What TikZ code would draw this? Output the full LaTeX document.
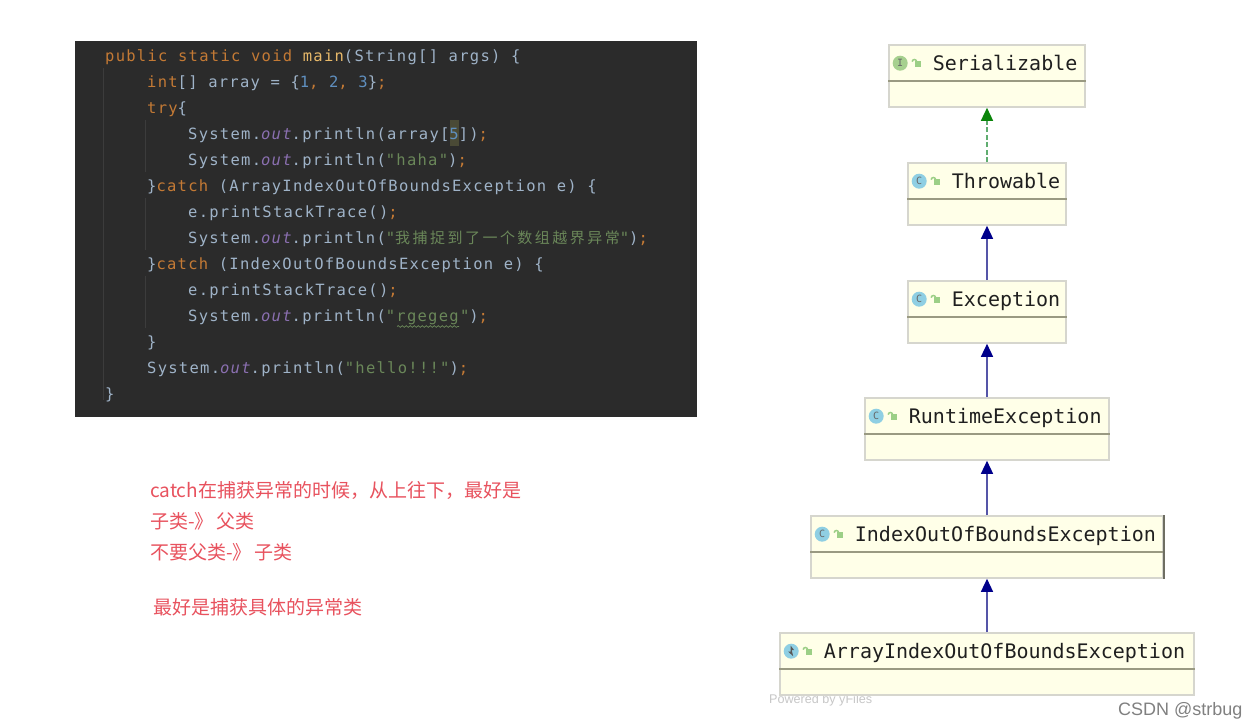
\documentclass[tikz,border=0pt]{standalone}
\usepackage{fontspec}
\usetikzlibrary{arrows.meta,decorations.pathmorphing}
\setmainfont{Liberation Sans}
\newfontfamily\codefont[LetterSpace=8.2]{DejaVu Sans Mono}
\newfontfamily\cjkcode[LetterSpace=16.5]{Noto Sans CJK SC}
\newfontfamily\umlfont{DejaVu Sans Mono}
\newfontfamily\cjk{Noto Sans CJK SC}
\definecolor{codebg}{HTML}{2B2B2B}
\definecolor{kw}{HTML}{C47A35}
\definecolor{plain}{HTML}{9FB3C8}
\definecolor{fieldc}{HTML}{8A6FB0}
\definecolor{numc}{HTML}{5F8FBF}
\definecolor{strc}{HTML}{6A8759}
\definecolor{methc}{HTML}{E8B96A}
\definecolor{guide}{HTML}{3C3C3C}
\definecolor{hilite}{HTML}{4A4A36}
\definecolor{umlfill}{HTML}{FFFFE8}
\definecolor{umledge}{HTML}{D6D6CE}
\definecolor{umlsep}{HTML}{9A9A82}
\definecolor{umldark}{HTML}{6E6E62}
\definecolor{navyhead}{HTML}{00008B}
\definecolor{navyline}{HTML}{5555A8}
\definecolor{greenhead}{HTML}{0A850A}
\definecolor{greenline}{HTML}{60AD70}
\definecolor{iconblue}{HTML}{8FCFE3}
\definecolor{icongreen}{HTML}{A6D08E}
\definecolor{lockgreen}{HTML}{9CCF86}
\definecolor{note}{HTML}{E8525E}
\newcommand\K[1]{\textcolor{kw}{#1}}
\newcommand\F[1]{\textit{\textcolor{fieldc}{#1}}}
\newcommand\Nm[1]{\textcolor{numc}{#1}}
\newcommand\St[1]{\textcolor{strc}{#1}}
\newcommand\Mt[1]{\textcolor{methc}{#1}}
\tikzset{
  codeline/.style={anchor=base west,inner sep=0pt,text=plain,font=\codefont\fontsize{15.5}{18}\selectfont},
  notetext/.style={anchor=base west,inner sep=0pt,text=note,font=\cjk\fontsize{19}{22}\selectfont},
  umlbox/.style={draw=umledge,fill=umlfill,line width=1.6pt,inner sep=0pt,minimum height=62pt},
  umlrule/.style={draw=umlsep,line width=1.8pt},
  umllabel/.style={anchor=base west,inner sep=0pt,text=black!88,font=\umlfont\fontsize{20}{24}\selectfont},
  iconc/.style={circle,inner sep=0pt,minimum size=15pt,text=black!60,font=\umlfont\fontsize{10}{10}\selectfont},
  extends/.style={draw=navyline,line width=1.4pt,-{Triangle[width=12pt,length=13pt,color=navyhead,fill=navyhead]}},
  implements/.style={draw=greenline,line width=1.4pt,dash pattern=on 5pt off 2.5pt,-{Triangle[width=12pt,length=13pt,color=greenhead,fill=greenhead]}},
}
\newcommand\lockat[1]{%
  \fill[lockgreen] ([shift={(-1pt,-1pt)}]#1) rectangle ([shift={(5pt,-6.5pt)}]#1);
  \draw[lockgreen,line width=1.5pt] ([shift={(-3.5pt,-1.5pt)}]#1) arc[start angle=180,end angle=0,radius=2.2pt];
}
\newcommand\umlnode[6]{% name, y centre, width, label, icon letter, icon colour
  \node[umlbox,minimum width=#3pt] (#1) at (987,#2) {};
  \draw[umlrule] ([yshift=-37pt]#1.north west) -- ([yshift=-37pt]#1.north east);
  \node[iconc,fill=#6] (#1icon) at ([shift={(12pt,-19pt)}]#1.north west) {#5};
  \coordinate (#1lock) at ([shift={(27.5pt,-16pt)}]#1.north west);
  \lockat{#1lock}
  \node[umllabel] (#1label) at ([shift={(44.5pt,-26pt)}]#1.north west) {#4};
}
\begin{document}
\begin{tikzpicture}[x=1pt,y=-1pt]
\useasboundingbox (0,0) rectangle (1259,728);
\fill[white] (0,0) rectangle (1259,728);

% code panel
\fill[codebg] (75,41) rectangle (697,417);
\foreach \gx/\ga/\gb in {103/68/400,145/120/172,145/198/250,145/276/328}
  \draw[guide,line width=0.8pt] (\gx,\ga) -- (\gx,\gb);
\fill[hilite] (449.5,120) rectangle (459,146);
\node[codeline] (c1) at (105,61) {\K{public static void} \Mt{main}(String[] args) \{};
\node[codeline] (c2) at (147,87) {\K{int}[] array = \{\Nm{1}\K{,} \Nm{2}\K{,} \Nm{3}\}\K{;}};
\node[codeline] (c3) at (147,113) {\K{try}\{};
\node[codeline] (c4) at (188,139) {System.\F{out}.println(array[\Nm{5}])\K{;}};
\node[codeline] (c5) at (188,165) {System.\F{out}.println(\St{"haha"})\K{;}};
\node[codeline] (c6) at (147,191) {\}\K{catch} (ArrayIndexOutOfBoundsException e) \{};
\node[codeline] (c7) at (188,217) {e.printStackTrace()\K{;}};
\node[codeline] (c8) at (188,243) {System.\F{out}.println(\St{"{\cjkcode\fontsize{15}{18}\selectfont 我捕捉到了一个数组越界异常}"})\K{;}};
\node[codeline] (c9) at (147,269) {\}\K{catch} (IndexOutOfBoundsException e) \{};
\node[codeline] (c10) at (188,295) {e.printStackTrace()\K{;}};
\node[codeline] (c11) at (188,321) {System.\F{out}.println(\St{"rgegeg"})\K{;}};
\node[codeline] (c12) at (147,347) {\}};
\node[codeline] (c13) at (147,373) {System.\F{out}.println(\St{"hello!!!"})\K{;}};
\node[codeline] (c14) at (105,399) {\}};
\draw[strc,line width=0.7pt,decorate,decoration={snake,segment length=4pt,amplitude=0.9pt}] (397,326.5) -- (459,326.5);

% red notes
\node[notetext] (n1) at (150,497) {catch在捕获异常的时候，从上往下，最好是};
\node[notetext] (n2) at (150,528) {子类-》\hspace{3pt}父类};
\node[notetext] (n3) at (150,559) {不要父类-》\hspace{3pt}子类};
\node[notetext] (n4) at (153,614) {最好是捕获具体的异常类};

% watermarks
\node[anchor=base west,inner sep=0pt,text=black!22,font=\fontsize{12.6}{15}\selectfont] (yfiles) at (769,703) {Powered by yFiles};
\node[anchor=base west,inner sep=0pt,text=black!50,font=\fontsize{18}{21}\selectfont] (csdn) at (1118,715) {CSDN @strbug};

% class hierarchy
\umlnode{ser}{76}{196}{Serializable}{I}{icongreen}
\umlnode{thr}{194}{158}{Throwable}{C}{iconblue}
\umlnode{exc}{312}{158}{Exception}{C}{iconblue}
\umlnode{rte}{429}{244}{RuntimeException}{C}{iconblue}
\umlnode{iob}{547}{352}{IndexOutOfBoundsException}{C}{iconblue}
\umlnode{aio}{664}{414}{ArrayIndexOutOfBoundsException}{}{iconblue}
\draw[umldark,line width=1.6pt] (iob.north east) -- (iob.south east);
\fill[black!65] ([shift={(11.5pt,-13.5pt)}]aio.north west) -- ([shift={(15pt,-18pt)}]aio.north west) -- ([shift={(12.5pt,-18pt)}]aio.north west) -- ([shift={(14pt,-24pt)}]aio.north west) -- ([shift={(9pt,-19.5pt)}]aio.north west) -- ([shift={(11.5pt,-19.5pt)}]aio.north west) -- cycle;

\draw[implements] (thr.north) -- (ser.south);
\draw[extends] (exc.north) -- (thr.south);
\draw[extends] (rte.north) -- (exc.south);
\draw[extends] (iob.north) -- (rte.south);
\draw[extends] (aio.north) -- (iob.south);
\end{tikzpicture}
\end{document}
